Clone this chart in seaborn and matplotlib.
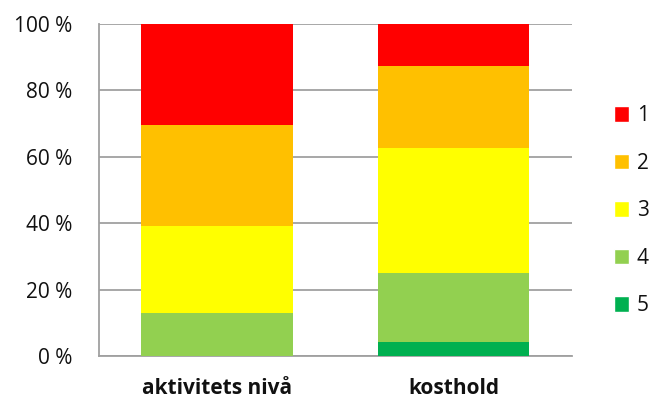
import numpy as np
import pandas as pd
import seaborn as sns
import matplotlib.pyplot as plt
from matplotlib.patches import Patch

categories = ['aktivitets nivå', 'kosthold']
levels = ['1', '2', '3', '4', '5']
# share of answers per level (%), level 1 on top, level 5 at the bottom
aktivitet = [30.4, 30.4, 26.1, 13.0, 0.0]
kosthold = [12.5, 25.0, 37.5, 20.8, 4.2]
colors = ['#FF0000', '#FFC000', '#FFFF00', '#92D050', '#00B050']

sns.set_theme(style='white')
plt.rcParams['font.family'] = ['Open Sans', 'DejaVu Sans']

fig = plt.figure(figsize=(6.5, 4), dpi=100)
ax = fig.add_axes([0.152, 0.11, 0.728, 0.83])

# Stacked bars: draw the cumulative total of each level, top level first.
df = pd.DataFrame({'aktivitets nivå': aktivitet, 'kosthold': kosthold}, index=levels)
for i, lvl in enumerate(levels):
    top = df.iloc[i:].sum()
    part = pd.DataFrame({'kategori': categories, 'andel': [top[c] for c in categories]})
    sns.barplot(data=part, x='kategori', y='andel', color=colors[i],
                width=0.64, saturation=1, ax=ax, zorder=3,
                edgecolor='none', linewidth=0)

ax.set_ylim(0, 100)
ax.set_yticks(np.arange(0, 101, 20))
ax.set_yticklabels([f'{v} %' for v in range(0, 101, 20)], fontsize=15,
                   color='#111111')
ax.set_xlabel('')
ax.set_ylabel('')
ax.tick_params(axis='x', labelsize=15, pad=16, length=0, labelcolor='#111111')
ax.tick_params(axis='y', pad=19, length=0)
for lab in ax.get_xticklabels():
    lab.set_fontweight('bold')
ax.grid(axis='y', color='#a0a0a0', linewidth=1.3, zorder=0)
ax.grid(axis='x', visible=False)
for s in ['top', 'right']:
    ax.spines[s].set_visible(False)
for s in ['left', 'bottom']:
    ax.spines[s].set_color('#a0a0a0')
    ax.spines[s].set_linewidth(1.3)

handles = [Patch(facecolor=c, label=l) for c, l in zip(colors, levels)]
fig.legend(handles=handles, loc='center left', bbox_to_anchor=(0.938, 0.473),
           frameon=False, fontsize=15, handlelength=0.75, handleheight=0.75,
           labelspacing=1.27, handletextpad=0.35, borderaxespad=0,
           borderpad=0.2, labelcolor='#111111')

fig.savefig('out.png', dpi=100)
